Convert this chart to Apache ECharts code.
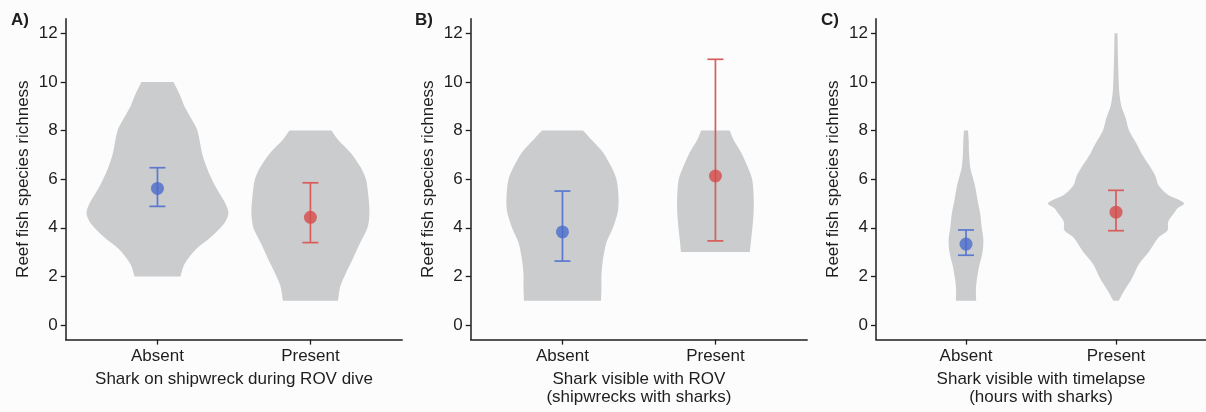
<!DOCTYPE html>
<html><head><meta charset="utf-8">
<script src="https://cdn.jsdelivr.net/npm/echarts@6/dist/echarts.min.js"></script>
<style>html,body{margin:0;padding:0;background:#fcfcfc}#c{width:1206px;height:412px}</style>
</head><body><div id="c"></div>
<script>
const categories = ['Absent', 'Present'];
const yTicks = [0, 2, 4, 6, 8, 10, 12];
const panelLabels = ['A)', 'B)', 'C)'];
const xTitles = ['Shark on shipwreck during ROV dive', 'Shark visible with ROV\n(shipwrecks with sharks)', 'Shark visible with timelapse\n(hours with sharks)'];
const yTitle = 'Reef fish species richness';

// violin outlines: [richness value, half-width in category units]
const violinA_absent = [[2,0.150],[2.5,0.176],[3.1,0.248],[3.6,0.346],[4.2,0.438],[4.6,0.464],[5.0,0.444],[5.7,0.379],[6.4,0.327],[7.0,0.294],[8.0,0.261],[8.4,0.229],[9.0,0.176],[9.5,0.144],[10,0.105]];
const violinA_present = [[1,0.180],[1.6,0.196],[2.1,0.229],[2.7,0.275],[3.4,0.327],[4.0,0.373],[4.6,0.386],[5.3,0.379],[6.0,0.363],[6.5,0.327],[7.1,0.261],[7.6,0.183],[8,0.137]];
const violinB_absent = [[1,0.252],[1.6,0.255],[2.1,0.255],[2.7,0.265],[3.4,0.288],[4.0,0.330],[4.7,0.363],[5.3,0.366],[6.0,0.353],[6.5,0.320],[7.1,0.265],[7.6,0.193],[8,0.134]];
const violinB_present = [[3,0.225],[3.5,0.233],[3.9,0.240],[4.3,0.246],[4.7,0.250],[5.3,0.250],[6.0,0.240],[6.5,0.211],[7.1,0.168],[7.6,0.120],[8,0.093]];
const violinC_absent = [[1,0.068],[1.45,0.066],[1.85,0.072],[2.4,0.087],[2.95,0.109],[3.5,0.116],[4.0,0.105],[4.6,0.094],[5.1,0.078],[5.7,0.061],[6.1,0.044],[6.5,0.028],[7.1,0.020],[7.6,0.018],[8,0.013]];
const violinC_present = [[1.0,0.018],[1.4,0.054],[1.9,0.105],[2.5,0.152],[3.0,0.218],[3.6,0.283],[3.9,0.344],[4.25,0.348],[4.65,0.392],[4.8,0.41],[5.0,0.454],[5.2,0.40],[5.35,0.348],[5.75,0.283],[6.15,0.261],[6.6,0.218],[7.0,0.175],[7.4,0.142],[8.0,0.087],[8.5,0.065],[9.0,0.036],[9.5,0.023],[10,0.018],[11,0.013],[12,0.010]];

// mean and error bar limits [Absent, Present]
const meanA = [5.62, 4.43], lowA = [4.88, 3.39], highA = [6.47, 5.85];
const meanB = [3.83, 6.13], lowB = [2.63, 3.46], highB = [5.51, 10.93];
const meanC = [3.33, 4.64], lowC = [2.87, 3.88], highC = [3.91, 5.54];

const violins = [[violinA_absent, violinA_present], [violinB_absent, violinB_present], [violinC_absent, violinC_present]];
const means = [meanA, meanB, meanC];
const lows = [lowA, lowB, lowC];
const highs = [highA, highB, highC];

const groupColors = ['#4a6bca', '#d64b4b'];
const barColors = ['#5a79cf', '#d95b5b'];
const txt = '#1e1e1e';
const font = 'Liberation Sans, Arial, sans-serif';
const gridLefts = [65.7, 470.7, 876];
const gridW = 336.5;

const chart = echarts.init(document.getElementById('c'), null, {renderer: 'canvas'});
const grids = [], xAxes = [], yAxes = [], series = [], graphics = [];
for (let i = 0; i < 3; i++) {
  grids.push({left: gridLefts[i], top: 18.7, width: gridW, height: 320.9, containLabel: false});
  xAxes.push({
    gridIndex: i, type: 'value', min: 0.4, max: 2.6,
    axisLine: {show: true, onZero: false, lineStyle: {color: txt, width: 1.5}},
    axisTick: {show: true, customValues: [1, 2], length: 5, lineStyle: {color: txt, width: 1.3}},
    axisLabel: {customValues: [1, 2], formatter: v => categories[Math.round(v) - 1], fontSize: 17, color: txt, margin: 8, fontFamily: font},
    splitLine: {show: false},
    name: xTitles[i], nameLocation: 'middle', nameGap: 31,
    nameTextStyle: {fontSize: 17, color: txt, lineHeight: 18, fontFamily: font}
  });
  yAxes.push({
    gridIndex: i, type: 'value', min: -0.6, max: 12.6,
    axisLine: {show: true, onZero: false, lineStyle: {color: txt, width: 1.5}},
    axisTick: {show: true, customValues: yTicks, length: 5, lineStyle: {color: txt, width: 1.3}},
    axisLabel: {customValues: yTicks, fontSize: 17, color: txt, margin: 8, fontFamily: font},
    splitLine: {show: false},
    name: yTitle, nameLocation: 'middle', nameGap: 34, nameRotate: 90,
    nameTextStyle: {fontSize: 17, color: txt, fontFamily: font}
  });
  const profs = violins[i];
  series.push({
    type: 'custom', xAxisIndex: i, yAxisIndex: i, silent: true, z: 1, clip: false,
    data: categories.map((c, k) => [k + 1, 0]),
    renderItem: (params, api) => {
      const c = api.value(0);
      const prof = profs[params.dataIndex];
      const right = prof.map(([v, h]) => api.coord([c + h, v]));
      const left = prof.slice().reverse().map(([v, h]) => api.coord([c - h, v]));
      // repeat the end points so the flat top and bottom keep sharp corners under smoothing
      const pts = [right[0]].concat(right, [right[right.length - 1], left[0]], left, [left[left.length - 1]]);
      return {type: 'polygon', shape: {points: pts, smooth: 0.3}, style: {fill: '#cbcccd'}};
    }
  });
  series.push({
    type: 'custom', xAxisIndex: i, yAxisIndex: i, silent: true, z: 3,
    data: categories.map((c, k) => [k + 1, lows[i][k], highs[i][k]]),
    renderItem: (params, api) => {
      const x = api.value(0);
      const pLo = api.coord([x, api.value(1)]);
      const pHi = api.coord([x, api.value(2)]);
      const col = barColors[params.dataIndex];
      const cap = 8;
      const st = {stroke: col, lineWidth: 1.7};
      return {type: 'group', children: [
        {type: 'line', shape: {x1: pLo[0], y1: pLo[1], x2: pHi[0], y2: pHi[1]}, style: st},
        {type: 'line', shape: {x1: pLo[0] - cap, y1: pLo[1], x2: pLo[0] + cap, y2: pLo[1]}, style: st},
        {type: 'line', shape: {x1: pHi[0] - cap, y1: pHi[1], x2: pHi[0] + cap, y2: pHi[1]}, style: st}
      ]};
    }
  });
  series.push({
    type: 'scatter', xAxisIndex: i, yAxisIndex: i, silent: true, z: 4, symbol: 'circle', symbolSize: 13,
    data: categories.map((c, k) => ({value: [k + 1, means[i][k]], itemStyle: {color: groupColors[k]}}))
  });
  graphics.push({type: 'text', left: [11, 415, 821][i], top: 12, style: {text: panelLabels[i], font: 'bold 17px ' + font, fill: txt}});
}

chart.setOption({
  backgroundColor: '#fcfcfc',
  animation: false,
  textStyle: {fontFamily: font},
  grid: grids, xAxis: xAxes, yAxis: yAxes, series: series, graphic: graphics
});
</script>
</body></html>
